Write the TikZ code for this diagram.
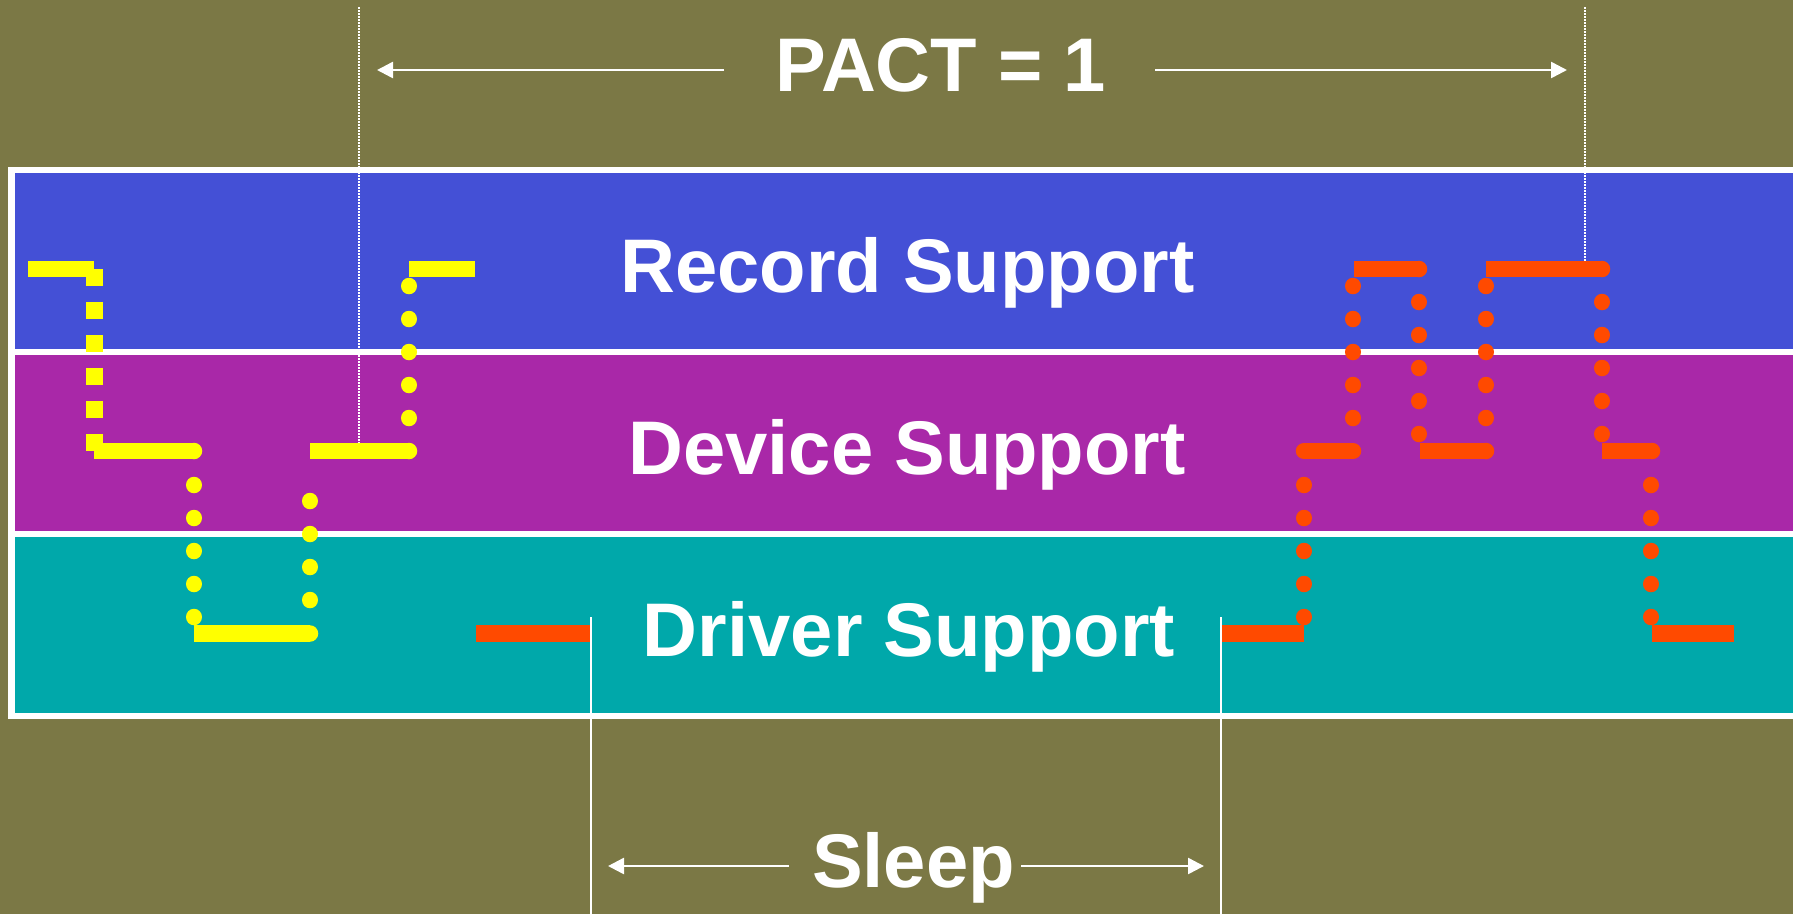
\documentclass[tikz,border=0pt]{standalone}
\usepackage{fontspec}
\setmainfont{Liberation Sans}
\usetikzlibrary{arrows.meta}
\definecolor{bg}{HTML}{7B7845}
\definecolor{bandblue}{HTML}{4450D6}
\definecolor{bandpurple}{HTML}{A928A8}
\definecolor{bandteal}{HTML}{00A8AA}
\definecolor{yl}{HTML}{FFFF00}
\definecolor{og}{HTML}{FF4A00}
\begin{document}
\begin{tikzpicture}[x=1pt,y=-1pt,
  seg/.style={line width=16.5pt, line cap=butt},
  rseg/.style={line width=16.5pt, line cap=round},
  dotline/.style={line width=16.5pt, line cap=round, dash pattern=on 0.01pt off 32.99pt},
  sqdash/.style={line width=16.5pt, line cap=butt, dash pattern=on 16.5pt off 16.5pt},
  lbl/.style={text=white, font=\fontsize{76}{90}\selectfont\bfseries, inner sep=0pt, anchor=base},
  dimarrow/.style={white, line width=2.5pt, -{Triangle[length=16pt,width=16pt]}},
  guide/.style={white, line width=1.5pt, dash pattern=on 1.5pt off 1.5pt},
  sleepline/.style={white, line width=2pt},
]
\clip (0,0) rectangle (1793,914);
\useasboundingbox (0,0) rectangle (1793,914);
\fill[bg] (0,0) rectangle (1793,914);
% layered box
\fill[white] (8,167) rectangle (1800,719);
\fill[bandblue] (15,173) rectangle (1800,349);
\fill[bandpurple] (15,355) rectangle (1800,531);
\fill[bandteal] (15,537) rectangle (1800,713);
% labels
\node[lbl] (rec) at (907.5,292) {Record Support};
\node[lbl] (dev) at (907,474) {Device Support};
\node[lbl] (drv) at (909,656) {Driver Support};
\node[lbl] (pact) at (941,91) {PACT = 1};
\node[lbl] (sleep) at (913.5,887) {Sleep};
% guide lines
\coordinate (gl1) at (359,7);  \coordinate (gl2) at (359,452);
\coordinate (gr1) at (1585,7); \coordinate (gr2) at (1585,269);
\draw[guide] (gl1) -- (gl2);
\draw[guide] (gr1) -- (gr2);
\coordinate (sl1) at (591,617);  \coordinate (sl2) at (591,914);
\coordinate (sr1) at (1221,617); \coordinate (sr2) at (1221,914);
\draw[sleepline] (sl1) -- (sl2);
\draw[sleepline] (sr1) -- (sr2);
% dimension arrows
\coordinate (pa1) at (724,70);  \coordinate (pa2) at (377,70);
\coordinate (pb1) at (1155,70); \coordinate (pb2) at (1567,70);
\draw[dimarrow] (pa1) -- (pa2);
\draw[dimarrow] (pb1) -- (pb2);
\coordinate (sa1) at (789,866);  \coordinate (sa2) at (608,866);
\coordinate (sb1) at (1021,866); \coordinate (sb2) at (1204,866);
\draw[dimarrow] (sa1) -- (sa2);
\draw[dimarrow] (sb1) -- (sb2);
% yellow trace
\draw[seg, yl] (28,269) -- (94,269);
\draw[sqdash, yl] (94.5,269) -- (94.5,451);
\draw[seg, yl] (94,451) -- (194,451); \fill[yl] (194,451) circle[radius=8.25pt];
\draw[dotline, yl] (194,485) -- (194,619);
\draw[seg, yl] (194,633.5) -- (310,633.5); \fill[yl] (310,633.5) circle[radius=8.25pt];
\draw[dotline, yl] (310,501) -- (310,603);
\draw[seg, yl] (310,451) -- (409,451); \fill[yl] (409,451) circle[radius=8.25pt];
\draw[dotline, yl] (409,286) -- (409,420);
\draw[seg, yl] (409,269) -- (475,269);
% orange trace
\draw[seg, og] (476,633.5) -- (590,633.5);
\draw[seg, og] (1222,633.5) -- (1304,633.5);
\draw[dotline, og] (1304,485) -- (1304,619);
\draw[rseg, og] (1304,451) -- (1353,451);
\draw[dotline, og] (1353,286) -- (1353,420);
\draw[seg, og] (1354,269) -- (1419,269); \fill[og] (1419,269) circle[radius=8.25pt];
\draw[dotline, og] (1419,302) -- (1419,437);
\draw[seg, og] (1420,451) -- (1486,451); \fill[og] (1486,451) circle[radius=8.25pt];
\draw[dotline, og] (1486,286) -- (1486,420);
\draw[seg, og] (1486,269) -- (1602,269); \fill[og] (1602,269) circle[radius=8.25pt];
\draw[dotline, og] (1602,302) -- (1602,437);
\draw[seg, og] (1602,451) -- (1652,451); \fill[og] (1652,451) circle[radius=8.25pt];
\draw[dotline, og] (1651,485) -- (1651,619);
\draw[seg, og] (1652,633.5) -- (1734,633.5);
\end{tikzpicture}
\end{document}
